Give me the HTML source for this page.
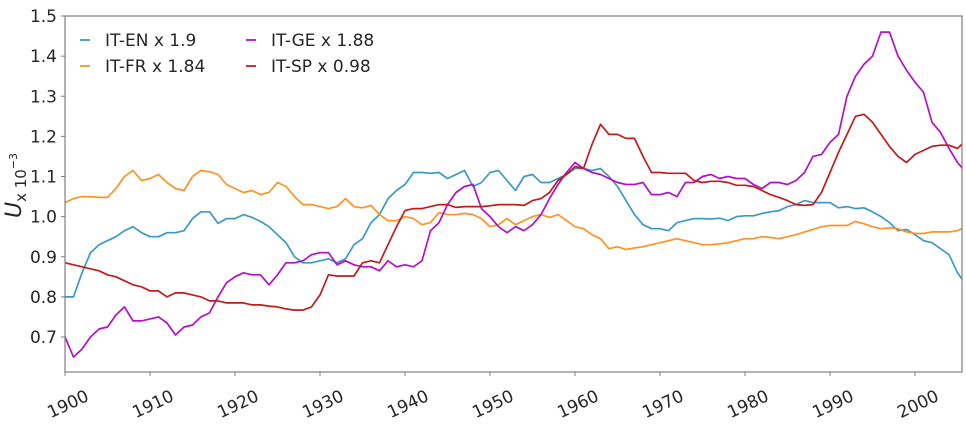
<!DOCTYPE html>
<html><head><meta charset="utf-8"><style>
body{margin:0;background:#fff;}
svg text{font-family:"DejaVu Sans","Liberation Sans",sans-serif;fill:#262626;}
</style></head><body>
<svg id="chart" width="966" height="424" xmlns="http://www.w3.org/2000/svg">
<g id="plot"></g>
</svg>
<script>
const years = [];
for (let y = 1900; y <= 2006; y++) years.push(y);
const itEN = [0.80,0.80,0.86,0.91,0.93,0.94,0.95,0.965,0.975,0.96,0.95,0.95,0.96,0.96,0.965,0.995,1.012,1.012,0.983,0.995,0.995,1.005,0.998,0.988,0.975,0.955,0.935,0.90,0.885,0.885,0.89,0.895,0.885,0.895,0.93,0.945,0.985,1.005,1.045,1.065,1.08,1.11,1.11,1.108,1.11,1.095,1.105,1.115,1.075,1.085,1.11,1.115,1.09,1.065,1.10,1.105,1.085,1.085,1.095,1.105,1.12,1.12,1.115,1.12,1.10,1.075,1.04,1.005,0.98,0.97,0.97,0.965,0.985,0.99,0.995,0.995,0.994,0.996,0.99,1.0,1.002,1.002,1.008,1.012,1.015,1.025,1.03,1.04,1.035,1.035,1.035,1.022,1.025,1.02,1.022,1.012,1.0,0.985,0.965,0.968,0.955,0.94,0.935,0.92,0.905,0.86,0.83];
const itFR = [1.035,1.045,1.05,1.05,1.048,1.048,1.07,1.10,1.115,1.09,1.095,1.105,1.085,1.07,1.065,1.10,1.115,1.112,1.105,1.08,1.07,1.06,1.065,1.055,1.06,1.085,1.075,1.05,1.03,1.03,1.025,1.02,1.025,1.045,1.025,1.022,1.028,1.005,0.99,0.99,1.0,0.995,0.98,0.985,1.01,1.005,1.005,1.008,1.005,0.995,0.975,0.98,0.995,0.98,0.99,1.0,1.005,0.998,1.005,0.99,0.975,0.97,0.955,0.945,0.92,0.925,0.918,0.922,0.925,0.93,0.935,0.94,0.945,0.94,0.935,0.93,0.93,0.932,0.935,0.94,0.945,0.945,0.95,0.948,0.945,0.95,0.955,0.962,0.968,0.975,0.978,0.978,0.978,0.988,0.982,0.975,0.97,0.972,0.97,0.962,0.958,0.958,0.962,0.962,0.962,0.965,0.975];
const itGE = [0.70,0.65,0.67,0.70,0.72,0.725,0.755,0.775,0.74,0.74,0.745,0.75,0.735,0.705,0.725,0.73,0.75,0.76,0.80,0.835,0.85,0.86,0.855,0.855,0.83,0.855,0.885,0.885,0.89,0.905,0.91,0.91,0.88,0.89,0.88,0.875,0.875,0.865,0.89,0.875,0.88,0.875,0.89,0.965,0.985,1.03,1.06,1.075,1.08,1.02,1.0,0.975,0.96,0.975,0.965,0.98,1.005,1.045,1.08,1.11,1.135,1.12,1.11,1.105,1.095,1.085,1.08,1.08,1.085,1.055,1.055,1.06,1.05,1.085,1.085,1.10,1.105,1.095,1.10,1.095,1.095,1.08,1.07,1.085,1.085,1.08,1.09,1.11,1.15,1.155,1.185,1.205,1.30,1.35,1.38,1.40,1.46,1.46,1.40,1.365,1.335,1.31,1.235,1.21,1.17,1.135,1.11];
const itSP = [0.885,0.88,0.875,0.87,0.865,0.855,0.85,0.84,0.83,0.825,0.815,0.815,0.80,0.81,0.81,0.805,0.80,0.79,0.79,0.785,0.785,0.785,0.78,0.78,0.777,0.775,0.77,0.767,0.767,0.775,0.805,0.855,0.852,0.852,0.852,0.885,0.89,0.885,0.93,0.975,1.015,1.02,1.02,1.025,1.03,1.03,1.023,1.025,1.025,1.025,1.027,1.03,1.03,1.03,1.028,1.04,1.045,1.06,1.09,1.105,1.125,1.12,1.18,1.23,1.205,1.205,1.195,1.195,1.15,1.11,1.11,1.108,1.108,1.108,1.09,1.085,1.088,1.088,1.085,1.078,1.078,1.075,1.065,1.055,1.048,1.04,1.03,1.028,1.03,1.06,1.11,1.16,1.205,1.25,1.255,1.235,1.205,1.175,1.15,1.135,1.155,1.165,1.175,1.178,1.178,1.17,1.19];
const yTicks = [0.7,0.8,0.9,1.0,1.1,1.2,1.3,1.4,1.5];
const xTicks = [1900,1910,1920,1930,1940,1950,1960,1970,1980,1990,2000];
const seriesNames = ["IT-EN x 1.9","IT-FR x 1.84","IT-GE x 1.88","IT-SP x 0.98"];
const seriesColors = ["#3a9ac4","#ff9224","#b40fc9","#c01c1c"];

const L=65,R=962,T=16,B=372;
const xs = y => L + (y-1900)*8.5;
const ys = v => T + (1.5-v)*401.25;
const NS="http://www.w3.org/2000/svg";
const g=document.getElementById('plot');
function mk(tag,attrs){const e=document.createElementNS(NS,tag);for(const k in attrs)e.setAttribute(k,attrs[k]);g.appendChild(e);return e;}

const cp=document.createElementNS(NS,'clipPath');cp.setAttribute('id','clip');
const cr=document.createElementNS(NS,'rect');cr.setAttribute('x',L);cr.setAttribute('y',T);cr.setAttribute('width',R-L);cr.setAttribute('height',B-T);
cp.appendChild(cr);g.appendChild(cp);

[itEN,itFR,itGE,itSP].forEach((arr,i)=>{
  const d=arr.map((v,j)=>(j?'L':'M')+xs(years[j]).toFixed(1)+','+ys(v).toFixed(1)).join('');
  const p=mk('path',{d:d,fill:'none',stroke:seriesColors[i],'stroke-width':1.7,'stroke-linejoin':'round','clip-path':'url(#clip)'});
  
  
});

const frame=mk('rect',{x:L,y:T,width:R-L,height:B-T,fill:'none',stroke:'#7f7f7f','stroke-width':1.2});



yTicks.forEach(v=>{
  mk('line',{x1:L-4,x2:L,y1:ys(v),y2:ys(v),stroke:'#7f7f7f','stroke-width':1});
  const t=mk('text',{x:L-8,y:ys(v)+6,'text-anchor':'end','font-size':17});
  t.textContent=v.toFixed(1);
  
  
});
xTicks.forEach(v=>{
  mk('line',{x1:xs(v),x2:xs(v),y1:B,y2:B+4,stroke:'#7f7f7f','stroke-width':1});
  const t=mk('text',{x:xs(v)+2,y:B+38,'text-anchor':'middle','font-size':17,transform:'rotate(-25 '+(xs(v)+2)+' '+(B+30)+')'});
  t.textContent=v;
  
  
});

const yl=mk('text',{x:0,y:0,'font-size':22,transform:'translate(21 218) rotate(-90)'});
yl.innerHTML='<tspan font-style="italic">U</tspan><tspan font-size="15" dy="5">x 10</tspan><tspan font-size="11" dy="-9">−3</tspan>';



const lpos=[[80,40],[80,66],[246,40],[246,66]];
seriesNames.forEach((n,i)=>{
  const [x,y]=lpos[i];
  const ln=mk('line',{x1:x,x2:x+10,y1:y,y2:y,stroke:seriesColors[i],'stroke-width':1.8});
  
  
  const t=mk('text',{x:x+25,y:y+6,'font-size':17});
  t.textContent=n;
  
  
});
</script>
</body></html>
